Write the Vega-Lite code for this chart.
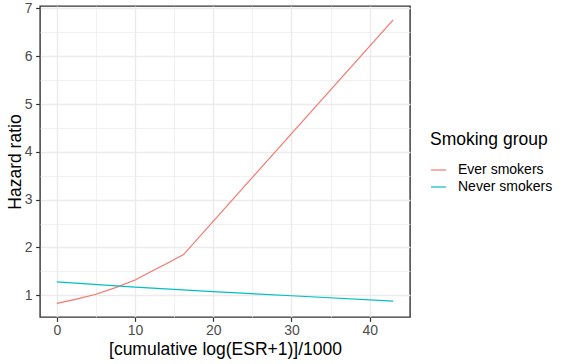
{
  "$schema": "https://vega.github.io/schema/vega-lite/v6.json",
  "width": 370,
  "height": 311,
  "autosize": {"type": "none"},
  "padding": {"left": 40, "top": 6, "right": 156, "bottom": 47},
  "background": "white",
  "config": {
    "font": "Liberation Sans",
    "view": {"stroke": "#333333", "strokeWidth": 1.4},
    "axis": {
      "domain": false,
      "gridColor": "#EBEBEB",
      "gridWidth": 1.4,
      "tickColor": "#333333",
      "tickSize": 4.4,
      "tickWidth": 1.2,
      "labelFont": "Liberation Sans",
      "labelFontSize": 14,
      "labelColor": "#4D4D4D",
      "titleFont": "Liberation Sans",
      "titleFontSize": 17.5,
      "titleFontWeight": "normal",
      "titleColor": "#000000"
    },
    "legend": {
      "titleFont": "Liberation Sans",
      "titleFontSize": 17.5,
      "titleFontWeight": "normal",
      "titleColor": "#000000",
      "labelFont": "Liberation Sans",
      "labelFontSize": 14,
      "labelColor": "#000000"
    }
  },
  "data": {
    "values": [
      {"group": "Ever smokers", "x": 0, "hr": 0.83},
      {"group": "Ever smokers", "x": 2.5, "hr": 0.92},
      {"group": "Ever smokers", "x": 5, "hr": 1.02},
      {"group": "Ever smokers", "x": 7.5, "hr": 1.16},
      {"group": "Ever smokers", "x": 10, "hr": 1.32},
      {"group": "Ever smokers", "x": 12, "hr": 1.49},
      {"group": "Ever smokers", "x": 14, "hr": 1.66},
      {"group": "Ever smokers", "x": 16.2, "hr": 1.85},
      {"group": "Ever smokers", "x": 43, "hr": 6.76},
      {"group": "Never smokers", "x": 0, "hr": 1.28},
      {"group": "Never smokers", "x": 10, "hr": 1.17},
      {"group": "Never smokers", "x": 20, "hr": 1.075},
      {"group": "Never smokers", "x": 30, "hr": 0.99},
      {"group": "Never smokers", "x": 43, "hr": 0.875}
    ]
  },
  "layer": [
    {
      "mark": {"type": "line", "opacity": 0},
      "encoding": {
        "x": {
          "field": "x", "type": "quantitative",
          "axis": {"orient": "top", "values": [5, 15, 25, 35], "grid": true, "gridWidth": 0.7, "labels": false, "ticks": false, "title": null}
        },
        "y": {
          "field": "hr", "type": "quantitative",
          "axis": {"orient": "right", "values": [1.5, 2.5, 3.5, 4.5, 5.5, 6.5], "grid": true, "gridWidth": 0.7, "labels": false, "ticks": false, "title": null}
        },
        "detail": {"field": "group"}
      }
    },
    {
      "mark": {"type": "line", "strokeWidth": 1.2},
      "encoding": {
        "x": {
          "field": "x", "type": "quantitative",
          "scale": {"domain": [-2.15, 45.15], "nice": false, "zero": false},
          "axis": {"orient": "bottom", "values": [0, 10, 20, 30, 40], "grid": true, "labelPadding": 2, "titlePadding": 3, "title": "[cumulative log(ESR+1)]/1000"}
        },
        "y": {
          "field": "hr", "type": "quantitative",
          "scale": {"domain": [0.545, 7.05], "nice": false, "zero": false},
          "axis": {"orient": "left", "values": [1, 2, 3, 4, 5, 6, 7], "grid": true, "labelPadding": 3.5, "titlePadding": 0, "title": "Hazard ratio"}
        },
        "color": {
          "field": "group", "type": "nominal",
          "scale": {"domain": ["Ever smokers", "Never smokers"], "range": ["#F8766D", "#00BFC4"]},
          "legend": {
            "title": "Smoking group",
            "orient": "none",
            "legendX": 390,
            "legendY": 125,
            "symbolType": "stroke",
            "symbolSize": 225,
            "symbolStrokeWidth": 1.2,
            "labelOffset": 11,
            "rowPadding": 1,
            "titlePadding": 13,
            "padding": 0
          }
        }
      }
    }
  ],
  "resolve": {"axis": {"x": "independent", "y": "independent"}}
}
